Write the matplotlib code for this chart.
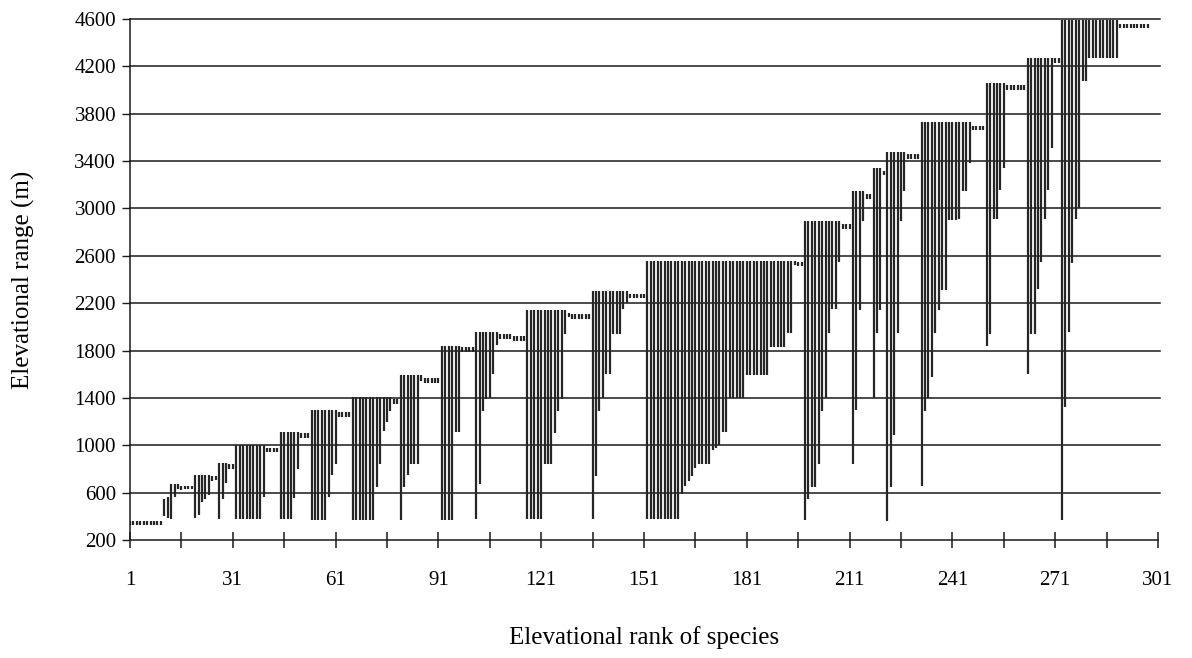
import matplotlib
matplotlib.use("Agg")
import matplotlib.pyplot as plt
import numpy as np

# ---- data: upper / lower elevational limits of each species, by elevational rank (1..298) ----
upper = [
    360, 360, 360, 360, 360, 360, 360, 360, 360, 360,          # 1-10
    550, 560, 670, 670, 670, 660, 660, 660, 660, 750,          # 11-20
    750, 750, 750, 750, 740, 740, 850, 850, 850, 840,          # 21-30
    840, 1000, 1000, 1000, 1000, 1000, 1000, 1000, 1000, 1000, # 31-40
    980, 980, 980, 980, 1110, 1110, 1110, 1110, 1110, 1110,    # 41-50
    1100, 1100, 1100, 1300, 1300, 1300, 1300, 1300, 1300, 1300,# 51-60
    1300, 1280, 1280, 1280, 1280, 1410, 1410, 1410, 1410, 1410,# 61-70
    1410, 1410, 1410, 1410, 1410, 1410, 1410, 1390, 1390, 1590,# 71-80
    1590, 1590, 1590, 1590, 1590, 1590, 1570, 1570, 1570, 1570,# 81-90
    1570, 1840, 1840, 1840, 1840, 1840, 1840, 1830, 1830, 1830,# 91-100
    1830, 1960, 1960, 1960, 1960, 1960, 1960, 1960, 1940, 1940,# 101-110
    1940, 1940, 1920, 1920, 1920, 1920, 2140, 2140, 2140, 2140,# 111-120
    2140, 2140, 2140, 2140, 2140, 2140, 2140, 2140, 2120, 2110,# 121-130
    2110, 2110, 2110, 2110, 2110, 2300, 2300, 2300, 2300, 2300,# 131-140
    2300, 2300, 2300, 2300, 2300, 2300, 2280, 2280, 2280, 2280,# 141-150
    2280, 2560, 2560, 2560, 2560, 2560, 2560, 2560, 2560, 2560,# 151-160
    2560, 2560, 2560, 2560, 2560, 2560, 2560, 2560, 2560, 2560,# 161-170
    2560, 2560, 2560, 2560, 2560, 2560, 2560, 2560, 2560, 2560,# 171-180
    2560, 2560, 2560, 2560, 2560, 2560, 2560, 2560, 2560, 2560,# 181-190
    2560, 2560, 2560, 2560, 2560, 2550, 2550, 2890, 2890, 2890,# 191-200
    2890, 2890, 2890, 2890, 2890, 2890, 2890, 2890, 2870, 2870,# 201-210
    2870, 3150, 3150, 3150, 3150, 3120, 3120, 3340, 3340, 3340,# 211-220
    3320, 3480, 3480, 3480, 3480, 3480, 3480, 3460, 3460, 3460,# 221-230
    3460, 3730, 3730, 3730, 3730, 3730, 3730, 3730, 3730, 3730,# 231-240
    3730, 3730, 3730, 3730, 3730, 3730, 3700, 3700, 3700, 3700,# 241-250
    4060, 4060, 4060, 4060, 4060, 4060, 4040, 4040, 4040, 4040,# 251-260
    4040, 4040, 4270, 4270, 4270, 4270, 4270, 4270, 4270, 4270,# 261-270
    4270, 4270, 4590, 4590, 4590, 4590, 4590, 4590, 4590, 4590,# 271-280
    4590, 4590, 4590, 4590, 4590, 4590, 4590, 4590, 4590, 4560,# 281-290
    4560, 4560, 4560, 4560, 4560, 4560, 4560, 4560,            # 291-298
]

lower = [
    330, 330, 330, 330, 330, 330, 330, 330, 330, 330,          # 1-10
    400, 390, 380, 560, 630, 620, 630, 630, 630, 390,          # 11-20
    410, 520, 550, 580, 700, 710, 380, 550, 680, 800,          # 21-30
    800, 380, 380, 380, 380, 380, 380, 380, 380, 560,          # 31-40
    940, 940, 940, 940, 380, 380, 380, 380, 555, 800,          # 41-50
    1060, 1060, 1060, 370, 370, 370, 370, 370, 560, 750,       # 51-60
    840, 1240, 1240, 1240, 1240, 370, 370, 370, 370, 370,      # 61-70
    370, 370, 650, 840, 1120, 1200, 1290, 1350, 1350, 370,     # 71-80
    650, 750, 840, 840, 840, 1540, 1530, 1530, 1530, 1530,     # 81-90
    1530, 370, 370, 370, 370, 1110, 1110, 1790, 1790, 1790,    # 91-100
    1790, 380, 670, 1290, 1390, 1400, 1600, 1850, 1900, 1900,  # 101-110
    1900, 1900, 1880, 1880, 1880, 1880, 380, 380, 380, 380,    # 111-120
    380, 840, 840, 840, 1100, 1290, 1390, 1940, 2080, 2070,    # 121-130
    2070, 2070, 2070, 2070, 2070, 380, 740, 1290, 1400, 1600,  # 131-140
    1600, 1940, 1940, 1940, 2150, 2200, 2240, 2240, 2240, 2240,# 141-150
    2240, 380, 380, 380, 380, 380, 380, 380, 380, 380,         # 151-160
    380, 590, 660, 700, 740, 810, 840, 840, 840, 840,          # 161-170
    960, 980, 1000, 1110, 1110, 1400, 1400, 1400, 1400, 1400,  # 171-180
    1590, 1590, 1590, 1590, 1590, 1590, 1590, 1830, 1830, 1830,# 181-190
    1830, 1830, 1950, 1950, 2520, 2510, 2510, 370, 550, 650,   # 191-200
    650, 840, 1290, 1400, 1950, 2150, 2150, 2550, 2830, 2830,  # 201-210
    2830, 840, 1300, 2140, 2890, 3080, 3080, 1400, 1950, 2140, # 211-220
    3280, 360, 650, 1090, 1950, 2890, 3150, 3420, 3420, 3420,  # 221-230
    3420, 660, 1290, 1400, 1580, 1950, 2140, 2310, 2310, 2900, # 231-240
    2900, 2900, 2910, 3150, 3150, 3380, 3660, 3660, 3660, 3660,# 241-250
    1840, 1940, 2910, 2910, 3160, 3340, 4000, 4000, 4000, 4000,# 251-260
    4000, 4000, 1600, 1940, 1940, 2320, 2550, 2910, 3160, 3510,# 261-270
    4230, 4230, 370, 1320, 1960, 2540, 2910, 3000, 4080, 4080, # 271-280
    4270, 4270, 4270, 4270, 4270, 4270, 4270, 4270, 4270, 4520,# 281-290
    4520, 4520, 4520, 4520, 4520, 4520, 4520, 4520,            # 291-298
]

ranks = np.arange(1, len(upper) + 1)

x_major = [1, 31, 61, 91, 121, 151, 181, 211, 241, 271, 301]
x_minor = [16, 46, 76, 106, 136, 166, 196, 226, 256, 286]
y_ticks = [200, 600, 1000, 1400, 1800, 2200, 2600, 3000, 3400, 3800, 4200, 4600]

# ---- figure ----
plt.rcParams['font.family'] = ['Liberation Serif', 'DejaVu Serif']
fig = plt.figure(figsize=(11.92, 6.58), dpi=100)
ax = fig.add_axes([130/1192, 1 - 540/658, (1158 - 130)/1192, (540 - 19)/658])

for y in y_ticks[1:]:
    ax.axhline(y, color='#1a1a1a', lw=1.1, zorder=1, xmin=0, xmax=1.002, clip_on=False)

ax.vlines(ranks, lower, upper, colors='#262626', linewidth=1.6, zorder=2)

ax.set_xlim(1, 301)
ax.set_ylim(200, 4600)

for s in ['top', 'right']:
    ax.spines[s].set_visible(False)
for s in ['left', 'bottom']:
    ax.spines[s].set_color('#1a1a1a')
    ax.spines[s].set_linewidth(1.1)

ax.set_xticks(x_major)
ax.set_xticklabels([str(v) for v in x_major])
ax.set_xticks(x_minor, minor=True)
ax.tick_params(axis='x', which='both', direction='inout', length=12, width=1.1,
               color='#1a1a1a', labelsize=15, pad=16)
ax.set_yticks(y_ticks)
ax.set_yticklabels([str(v) for v in y_ticks])
ax.tick_params(axis='y', direction='out', length=6, width=1.0, color='#1a1a1a',
               labelsize=15, pad=4)

ax.set_xlabel('Elevational rank of species', fontsize=18, labelpad=26)
ax.set_ylabel('Elevational range (m)', fontsize=18, labelpad=28)

fig.savefig('out.png', dpi=100, facecolor='white')
